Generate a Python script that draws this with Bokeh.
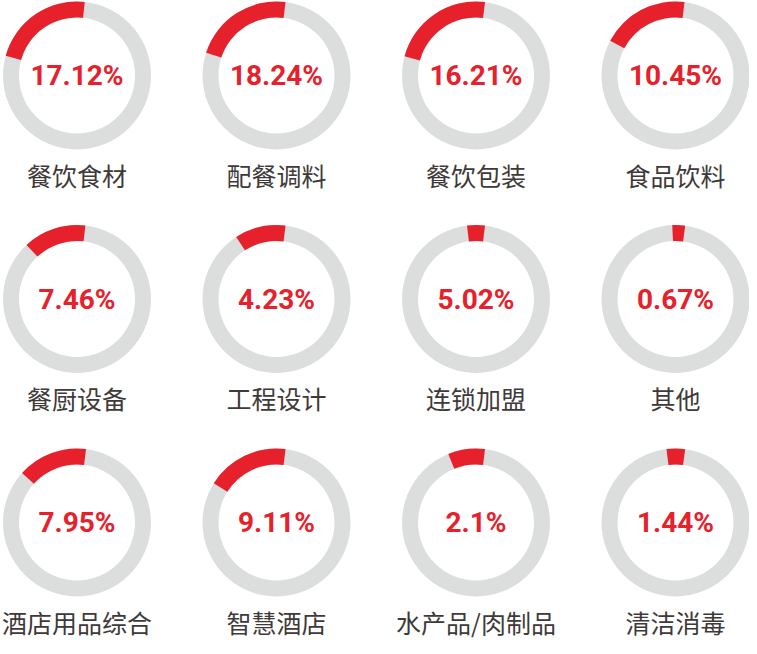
import math
from bokeh.plotting import figure
from bokeh.models import Range1d, ColumnDataSource
from bokeh.core.properties import value
from bokeh.embed import file_html
from bokeh.resources import INLINE

# ---- data ----
categories = ["餐饮食材", "配餐调料", "餐饮包装", "食品饮料",
              "餐厨设备", "工程设计", "连锁加盟", "其他",
              "酒店用品综合", "智慧酒店", "水产品/肉制品", "清洁消毒"]
pct_labels = ["17.12%", "18.24%", "16.21%", "10.45%",
              "7.46%", "4.23%", "5.02%", "0.67%",
              "7.95%", "9.11%", "2.1%", "1.44%"]
# red arc extent (degrees) clockwise / counter-clockwise from 12 o'clock
arc_cw_deg = [6, 7, 7, 7, 6.5, 7, 7, 7.5, 7, 7, 7, 7.5]
arc_ccw_deg = [74.5, 72, 75, 62, 43, 33, 7, 2.5, 48, 58, 22, 7]

# ---- layout / style ----
W, H = 749, 638
N_COLS = 4
COL0, COL_STEP = 76.5, 199.5
ROW0, ROW_STEP = 75, 223.5
OUTER_R, INNER_R = 74, 58
LABEL_GAP = 99
RED = "#e6212b"
GRAY = "#dcdddd"
TEXT = "#3e3a39"

xs, ys = [], []
for i in range(len(categories)):
    c, r = i % N_COLS, i // N_COLS
    xs.append(COL0 + c * COL_STEP)
    ys.append(H - (ROW0 + r * ROW_STEP))

src = ColumnDataSource(dict(
    x=xs, y=ys,
    ly=[y - LABEL_GAP for y in ys],
    cat=categories, pct=pct_labels,
    start=[math.radians(90 - a) for a in arc_cw_deg],
    end=[math.radians(90 + a) for a in arc_ccw_deg],
))

p = figure(width=W, height=H, x_range=Range1d(0, W), y_range=Range1d(0, H),
           output_backend="svg", toolbar_location=None, min_border=0)
p.axis.visible = False
p.grid.visible = False
p.outline_line_color = None
p.background_fill_color = "white"

p.annulus(x="x", y="y", inner_radius=INNER_R, outer_radius=OUTER_R,
          fill_color=GRAY, line_color=None, source=src)
p.annular_wedge(x="x", y="y", inner_radius=INNER_R, outer_radius=OUTER_R,
                start_angle="start", end_angle="end", direction="anticlock",
                fill_color=RED, line_color=None, source=src)

p.text(x="x", y="y", text="pct", text_font=value("Roboto"), text_font_style="bold",
       text_font_size="28px", text_align="center", text_baseline="middle",
       text_color=RED, source=src)
p.text(x="x", y="ly", text="cat", text_font=value("Noto Sans CJK SC"),
       text_font_size="25px", text_align="center", text_baseline="middle",
       text_color=TEXT, source=src)

open("out.html", "w").write(file_html(p, INLINE))
